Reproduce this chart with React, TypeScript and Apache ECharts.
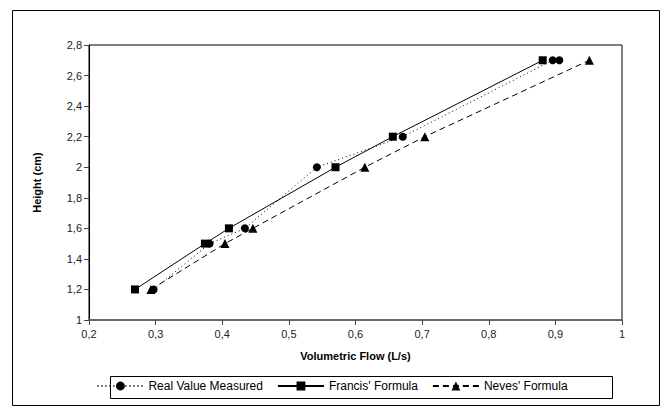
import React, { useEffect, useRef } from "react";
import * as echarts from "echarts";

const seriesNames = ["Real Value Measured", "Francis' Formula", "Neves' Formula"];
const realValues: [number, number][] = [
  [0.297, 1.2], [0.381, 1.5], [0.434, 1.6], [0.542, 2.0], [0.671, 2.2], [0.896, 2.7], [0.906, 2.7],
];
const francisValues: [number, number][] = [
  [0.269, 1.2], [0.374, 1.5], [0.41, 1.6], [0.57, 2.0], [0.656, 2.2], [0.881, 2.7],
];
const nevesValues: [number, number][] = [
  [0.293, 1.2], [0.404, 1.5], [0.446, 1.6], [0.614, 2.0], [0.704, 2.2], [0.951, 2.7],
];
const xTitle = "Volumetric Flow (L/s)";
const yTitle = "Height (cm)";

const FONT = "'Liberation Sans', Arial, sans-serif";
const fmt = (v: number) => (Math.round(v * 10) / 10).toString().replace(".", ",");

export default function App() {
  const ref = useRef<HTMLDivElement>(null);
  useEffect(() => {
    document.body.style.margin = "0";
    const chart = echarts.init(ref.current!, undefined, { renderer: "svg" });
    const lineStyleBase = { color: "#000", width: 1 };
    chart.setOption({
      animation: false,
      backgroundColor: "#fff",
      textStyle: { fontFamily: FONT },
      grid: {
        left: 89, top: 45, right: 42, bottom: 88,
        show: true, borderColor: "#000", borderWidth: 1, backgroundColor: "transparent",
      },
      graphic: [
        {
          type: "rect", shape: { x: 12.5, y: 10.5, width: 647, height: 395 },
          style: { fill: "none", stroke: "#000", lineWidth: 1 }, silent: true, z: -1,
        },
        {
          type: "rect", shape: { x: 110.5, y: 376.5, width: 502, height: 22 },
          style: { fill: "none", stroke: "#000", lineWidth: 1 }, silent: true,
        },
      ],
      legend: {
        data: seriesNames,
        left: "center",
        top: 380,
        padding: 0,
        itemGap: 14,
        itemWidth: 46,
        itemHeight: 11,
        textStyle: { fontSize: 12, color: "#000", fontFamily: FONT },
      },
      xAxis: {
        type: "value", min: 0.2, max: 1, interval: 0.1,
        name: xTitle, nameLocation: "middle", nameGap: 30,
        nameTextStyle: { fontWeight: "bold", fontSize: 11, color: "#000", fontFamily: FONT },
        axisLine: { show: true, lineStyle: { color: "#666", width: 2 } },
        axisTick: { show: true, length: 5, lineStyle: { color: "#444" } },
        axisLabel: { formatter: fmt, fontSize: 11, color: "#222", margin: 8, fontFamily: FONT },
        splitLine: { show: false },
      },
      yAxis: {
        type: "value", min: 1, max: 2.8, interval: 0.2,
        name: yTitle, nameLocation: "middle", nameGap: 47,
        nameTextStyle: { fontWeight: "bold", fontSize: 11, color: "#000", fontFamily: FONT },
        axisLine: { show: true, lineStyle: { color: "#000", width: 1 } },
        axisTick: { show: true, length: 5, lineStyle: { color: "#444" } },
        axisLabel: { formatter: fmt, fontSize: 11, color: "#222", margin: 7, fontFamily: FONT },
        splitLine: { show: false },
      },
      series: [
        {
          name: seriesNames[0], type: "line", data: realValues,
          symbol: "circle", symbolSize: 8,
          itemStyle: { color: "#000" },
          lineStyle: { ...lineStyleBase, type: [1, 3] },
        },
        {
          name: seriesNames[1], type: "line", data: francisValues,
          symbol: "rect", symbolSize: 8,
          itemStyle: { color: "#000" },
          lineStyle: { ...lineStyleBase, type: "solid" },
        },
        {
          name: seriesNames[2], type: "line", data: nevesValues,
          symbol: "triangle", symbolSize: 9,
          itemStyle: { color: "#000" },
          lineStyle: { ...lineStyleBase, type: [6, 4] },
        },
      ],
    });
    return () => chart.dispose();
  }, []);
  return <div ref={ref} style={{ width: 664, height: 408 }} />;
}
